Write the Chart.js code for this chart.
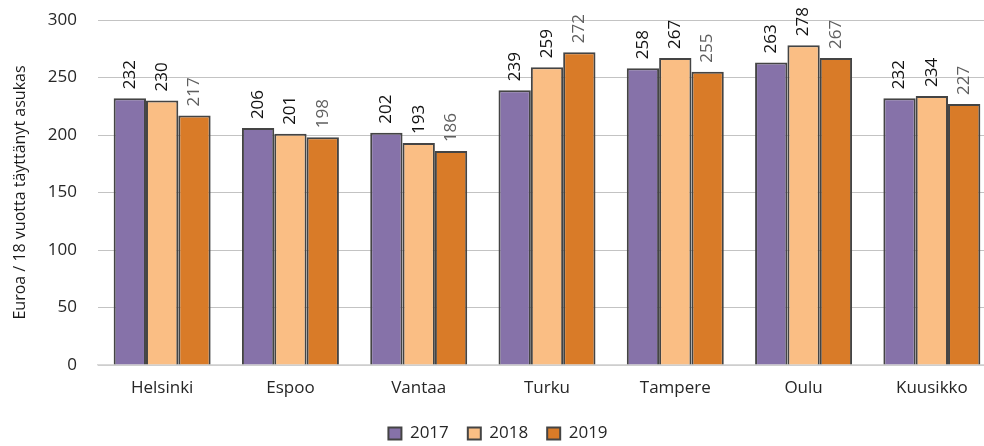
<!DOCTYPE html>
<html>
<head>
<meta charset="utf-8">
<script src="https://cdn.jsdelivr.net/npm/chart.js@4"></script>
<style>
  html, body { margin: 0; padding: 0; background: #fff; overflow: hidden; }
  .wrap { width: 996px; height: 452px; }
</style>
</head>
<body>
<div class="wrap"><canvas id="costs"></canvas></div>
<script>
// Kunnat
const cities = ['Helsinki', 'Espoo', 'Vantaa', 'Turku', 'Tampere', 'Oulu', 'Kuusikko'];

// Euroa / 18 vuotta täyttänyt asukas
const values2017 = [232, 206, 202, 239, 258, 263, 232];
const values2018 = [230, 201, 193, 259, 267, 278, 234];
const values2019 = [217, 198, 186, 272, 255, 267, 227];

const yTicks = [0, 50, 100, 150, 200, 250, 300];

const labelColors = ['#111', '#111', '#5f5f5f'];

// rotated value labels above each bar
const barValueLabels = {
  id: 'barValueLabels',
  afterDatasetsDraw(chart) {
    const ctx = chart.ctx;
    chart.data.datasets.forEach((ds, i) => {
      const meta = chart.getDatasetMeta(i);
      meta.data.forEach((bar, j) => {
        ctx.save();
        ctx.translate(bar.x, bar.y - 9);
        ctx.rotate(-Math.PI / 2);
        ctx.font = '17px "Open Sans"';
        ctx.fillStyle = labelColors[i];
        ctx.textAlign = 'left';
        ctx.textBaseline = 'middle';
        ctx.fillText(ds.data[j], 0, 0);
        ctx.restore();
      });
    });
  }
};

Chart.defaults.font.family = '"Open Sans", sans-serif';
Chart.defaults.color = '#262626';

const data = {
  labels: cities,
  datasets: [
    { label: '2017', data: values2017, backgroundColor: '#8672a9' },
    { label: '2018', data: values2018, backgroundColor: '#fabe84' },
    { label: '2019', data: values2019, backgroundColor: '#d97b28' }
  ].map(ds => Object.assign(ds, {
    borderColor: '#444',
    borderWidth: 2,
    borderSkipped: 'bottom',
    categoryPercentage: 0.756,
    barPercentage: 1.0
  }))
};

const config = {
  type: 'bar',
  data: data,
  options: {
    responsive: true,
    maintainAspectRatio: false,
    animation: false,
    layout: {
      padding: 0
    },
    scales: {
      x: {
        afterFit(scale) { scale.height = 41; },
        grid: { display: false, drawTicks: false },
        border: { color: '#d9d9d9', width: 1.5 },
        ticks: { font: { size: 17 }, padding: 13, color: '#262626' }
      },
      y: {
        min: 0,
        max: 300,
        afterFit(scale) {
          scale.width = 98;
          scale.paddingTop = 20;
          scale.paddingBottom = 10;
        },
        afterBuildTicks(scale) { scale.ticks = yTicks.map(v => ({ value: v })); },
        grid: { color: '#c3c3c3', drawTicks: false },
        border: { display: false },
        ticks: { font: { size: 17 }, padding: 21, color: '#262626' },
        title: {
          display: true,
          text: 'Euroa / 18 vuotta täyttänyt asukas',
          font: { size: 16 },
          color: '#1a1a1a',
          padding: { top: 11, bottom: 0 }
        }
      }
    },
    plugins: {
      legend: {
        display: true,
        position: 'bottom',
        labels: {
          boxWidth: 13,
          boxHeight: 12,
          padding: 19,
          font: { size: 17 },
          color: '#262626'
        }
      },
      tooltip: { enabled: false }
    }
  },
  plugins: [barValueLabels]
};

const costsChart = new Chart(document.getElementById('costs'), config);
</script>
</body>
</html>
